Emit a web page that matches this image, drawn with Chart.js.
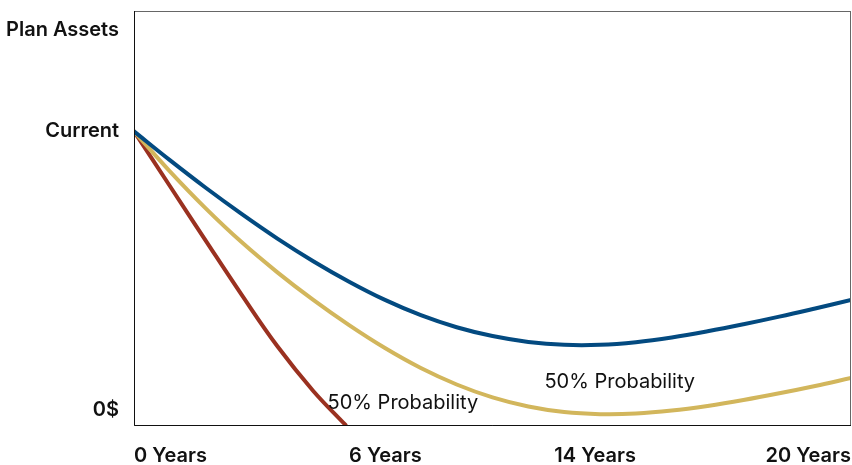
<!DOCTYPE html>
<html>
<head>
<meta charset="utf-8">
<script src="https://cdn.jsdelivr.net/npm/chart.js@4/dist/chart.umd.min.js"></script>
<style>
  html, body { margin: 0; padding: 0; background: #fff; }
  canvas { display: block; }
</style>
</head>
<body>
<canvas id="myChart" width="852" height="465"></canvas>
<script>
// years on the x axis
const years = [0, 1, 2, 3, 4, 5, 6, 7, 8, 9, 10, 11, 12, 13, 14, 15, 16, 17, 18, 19, 20];
// plan assets, current = 100
const upperPath = [100, 90.2, 80.8, 71.9, 63.5, 55.8, 48.8, 42.6, 37.4, 33.3, 30.3, 28.3, 27.3, 27.3, 28.2, 29.8, 31.9, 34.3, 36.9, 39.7, 42.6];
const middlePath = [100, 86.4, 73.8, 62.3, 52.0, 42.6, 34.0, 26.2, 19.4, 13.8, 9.4, 6.3, 4.4, 3.7, 3.9, 4.9, 6.5, 8.5, 10.8, 13.3, 16.0];
const lowerYears = [0, 1, 2, 3, 4, 5, 5.9];
const lowerPath = [100, 81.4, 62.8, 44.4, 26.8, 11.6, 0];

const xTicks = [0, 6, 14, 20];
const xTickLabels = ["0 Years", "6 Years", "14 Years", "20 Years"];
const yTicks = [0, 100];
const yTickLabels = ["0$", "Current"];
const yTitle = "Plan Assets";

const noteText = ["50% Probability", "50% Probability"];
const noteYears = [7.5, 13.55];
const noteValues = [7.5, 14.6];

const FONT = "Inter, 'Liberation Sans', Arial, sans-serif";

function toPoints(xs, ys) {
  return xs.map((x, i) => ({ x: x, y: ys[i] }));
}

const labelsPlugin = {
  id: "labels",
  afterDraw(chart) {
    const { ctx, chartArea, scales } = chart;
    const x = scales.x;
    const y = scales.y;
    ctx.save();

    // frame
    ctx.strokeStyle = "#666";
    ctx.lineWidth = 1;
    ctx.strokeRect(chartArea.left + 0.5, chartArea.top + 0.5, chartArea.right - chartArea.left - 1, chartArea.bottom - chartArea.top);
    ctx.strokeStyle = "#111";
    ctx.beginPath();
    ctx.moveTo(chartArea.left + 0.5, chartArea.top);
    ctx.lineTo(chartArea.left + 0.5, chartArea.bottom + 0.5);
    ctx.lineTo(chartArea.right, chartArea.bottom + 0.5);
    ctx.stroke();

    ctx.fillStyle = "#111";
    ctx.font = "600 20px " + FONT;

    // x labels
    ctx.textBaseline = "middle";
    xTicks.forEach((v, i) => {
      ctx.textAlign = i < 2 ? "left" : "right";
      ctx.fillText(xTickLabels[i], x.getPixelForValue(v), chartArea.bottom + 31);
    });

    // y labels
    ctx.textAlign = "right";
    yTicks.forEach((v, i) => {
      const off = v === 0 ? -15 : 0;
      ctx.fillText(yTickLabels[i], chartArea.left - 15, y.getPixelForValue(v) + off);
    });
    ctx.fillText(yTitle, chartArea.left - 15, chartArea.top + 19);

    // notes
    ctx.font = "20px " + FONT;
    ctx.textAlign = "center";
    noteText.forEach((t, i) => {
      ctx.fillText(t, x.getPixelForValue(noteYears[i]), y.getPixelForValue(noteValues[i]));
    });
    ctx.restore();
  },
};

const ctx = document.getElementById("myChart").getContext("2d");

const myChart = new Chart(ctx, {
  type: "line",
  data: {
    datasets: [
      {
        data: toPoints(years, upperPath),
        borderColor: "#034a80",
      },
      {
        data: toPoints(years, middlePath),
        borderColor: "#d2b65c",
      },
      {
        data: toPoints(lowerYears, lowerPath),
        borderColor: "#9a3120",
      },
    ],
  },
  options: {
    responsive: false,
    animation: false,
    devicePixelRatio: 1,
    layout: {
      padding: { left: 134, top: 11, right: 1, bottom: 40 },
    },
    elements: {
      point: { radius: 0 },
      line: { borderWidth: 4, tension: 0.4, fill: false, borderCapStyle: "round" },
    },
    scales: {
      x: { type: "linear", min: 0, max: 20, display: false },
      y: { type: "linear", min: 0, max: 141, display: false },
    },
    plugins: {
      legend: { display: false },
      tooltip: { enabled: false },
    },
  },
  plugins: [labelsPlugin],
});
</script>
</body>
</html>
